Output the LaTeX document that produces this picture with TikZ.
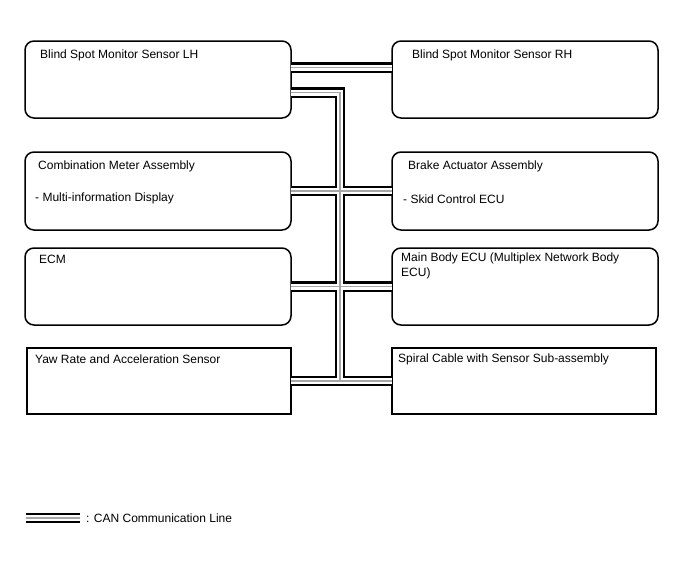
\documentclass[tikz,border=0pt]{standalone}
\usepackage{fontspec}
\setmainfont{Liberation Sans}
\usetikzlibrary{positioning}
\begin{document}
\begin{tikzpicture}[x=1pt,y=-1pt]
  \tikzset{
    unit/.style={
      rectangle,
      rounded corners=9pt,
      draw=black, line width=1.5pt,
      minimum width=266pt,
      minimum height=77pt,
      inner sep=0, outer sep=0,
    },
    caption/.style={
      anchor=base west,
      inner sep=0,
      font=\fontsize{12}{15}\selectfont,
    },
  }

  \useasboundingbox (0,0) rectangle (688,560);

  \node[unit] (lhsensor) at (158,79.5) {};
  \node[unit, right=101pt of lhsensor] (rhsensor) {};

  \node[unit,
    below=34pt of lhsensor,
    minimum height=78pt] (meter) {};
  \node[unit,
    right=101pt of meter,
    minimum height=78pt] (brake) {};

  \node[unit, below=18pt of meter] (ecm) {};
  \node[unit, right=101pt of ecm] (body) {};

  \node[unit,
    below=23pt of ecm,
    xshift=1pt,
    sharp corners,
    minimum width=264pt,
    minimum height=66pt] (yaw) {};
  \node[unit,
    right=101pt of yaw,
    sharp corners,
    minimum width=264pt,
    minimum height=66pt] (spiral) {};

  \node[caption] (lhtext) at ([xshift=15pt, yshift=-17.5pt]lhsensor.north west)
    {Blind Spot Monitor Sensor LH};
  \node[caption] (rhtext) at ([xshift=20pt, yshift=-17pt]rhsensor.north west)
    {Blind Spot Monitor Sensor RH};
  \node[caption] (metertext) at ([xshift=13pt, yshift=-17pt]meter.north west)
    {Combination Meter Assembly};
  \node[caption] (meternote) at ([xshift=10pt, yshift=-49pt]meter.north west)
    {- Multi-information Display};
  \node[caption] (braketext) at ([xshift=16pt, yshift=-17pt]brake.north west)
    {Brake Actuator Assembly};
  \node[caption] (brakenote) at ([xshift=11pt, yshift=-51pt]brake.north west)
    {- Skid Control ECU};
  \node[caption] (ecmtext) at ([xshift=14pt, yshift=-15pt]ecm.north west)
    {ECM};
  \node[caption, anchor=north west, align=left] (bodytext)
    at ([xshift=9pt, yshift=-5pt]body.north west)
    {Main Body ECU (Multiplex Network Body\\ECU)};
  \node[caption] (yawtext) at ([xshift=8pt, yshift=-15pt]yaw.north west)
    {Yaw Rate and Acceleration Sensor};
  \node[caption] (spiraltext) at ([xshift=6pt, yshift=-14pt]spiral.north west)
    {Spiral Cable with Sensor Sub-assembly};

  \coordinate (bus) at (340,0);
  \coordinate (keystart) at (26,518);
  \node[caption] (keytext) at (86,522) {: CAN Communication Line};
  \coordinate (keyend) at ([xshift=-6pt]keytext.west);

  \foreach \lw/\lc in {10.5pt/black, 6pt/white, 1.2pt/black!35} {
    \draw[line width=\lw, draw=\lc]
      ([yshift=12pt]lhsensor.east) -- ([yshift=12pt]rhsensor.west)
      ([yshift=-13pt]lhsensor.east) -| (bus |- yaw.east)
      (meter.east) -- (brake.west)
      (ecm.east) -- (body.west)
      (yaw.east) -- (spiral.west)
      (keystart) -- (keystart -| keyend);
  }

\end{tikzpicture}
\end{document}
